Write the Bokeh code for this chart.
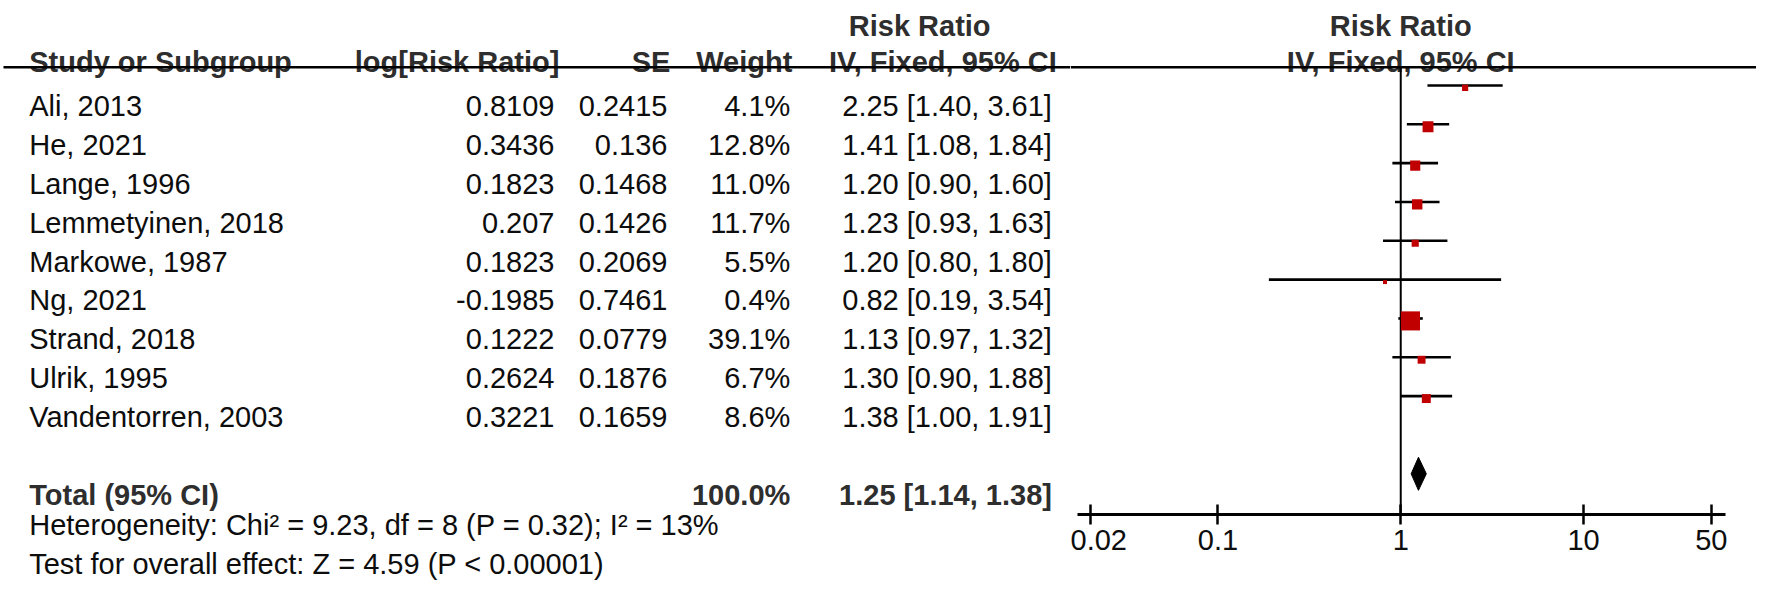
from bokeh.plotting import figure
from bokeh.layouts import row
from bokeh.models import Range1d, FixedTicker
from bokeh.embed import file_html
from bokeh.resources import INLINE
from bokeh.core.properties import value

# ---------------- data ----------------
studies = ["Ali, 2013", "He, 2021", "Lange, 1996", "Lemmetyinen, 2018", "Markowe, 1987",
           "Ng, 2021", "Strand, 2018", "Ulrik, 1995", "Vandentorren, 2003"]
log_rr = [0.8109, 0.3436, 0.1823, 0.207, 0.1823, -0.1985, 0.1222, 0.2624, 0.3221]
se = [0.2415, 0.136, 0.1468, 0.1426, 0.2069, 0.7461, 0.0779, 0.1876, 0.1659]
weight = [4.1, 12.8, 11.0, 11.7, 5.5, 0.4, 39.1, 6.7, 8.6]
rr = [2.25, 1.41, 1.20, 1.23, 1.20, 0.82, 1.13, 1.30, 1.38]
ci_low = [1.40, 1.08, 0.90, 0.93, 0.80, 0.19, 0.97, 0.90, 1.00]
ci_high = [3.61, 1.84, 1.60, 1.63, 1.80, 3.54, 1.32, 1.88, 1.91]
total_weight = 100.0
total_rr = 1.25
total_low = 1.14
total_high = 1.38
heterogeneity = "Heterogeneity: Chi\u00b2 = 9.23, df = 8 (P = 0.32); I\u00b2 = 13%"
overall_effect = "Test for overall effect: Z = 4.59 (P < 0.00001)"
tick_values = [0.02, 0.1, 1, 10, 50]
tick_labels = ["0.02", "0.1", "1", "10", "50"]

# ---------------- layout / style ----------------
FONT = "Liberation Sans"
FS = "29px"
REG = "#0d0d0d"
BOLD = "#2e2e2e"
RED = "#C00000"

W, H = 1756, 583            # size of the whole layout on the page
REF_W, REF_H = 1772, 599    # layout coordinates below are given in this frame
SX, SY = W / REF_W, H / REF_H

SPLIT = 1080          # where the table ends and the forest plot begins
X_ONE = 1413          # x of RR = 1
DECADE = 184.5        # per decade
AXIS_Y = 528

ROW0 = 87.3
PITCH = 39.9
TEXT_OFF = 21.3
SQ_OFF = 2.5

n = len(studies)
line_y = [ROW0 + PITCH * i for i in range(n)]
text_y = [y + TEXT_OFF for y in line_y]
total_line_y = ROW0 + PITCH * (n + 1)
total_text_y = total_line_y + TEXT_OFF


def add_text(p, xs, ys, texts, align, bold=False):
    p.text(x=xs, y=ys, text=texts, text_align=align, text_baseline="alphabetic",
           text_font=value(FONT), text_font_size=value(FS),
           text_font_style="bold" if bold else "normal",
           text_color=BOLD if bold else REG)


def no_align(p):
    try:
        p.frame_align = False
    except Exception:
        pass


# ---------------- left table ----------------
left_w = round(SPLIT * SX)
left_end = left_w / SX
left = figure(width=left_w, height=H, output_backend="svg", toolbar_location=None,
              x_range=Range1d(0, left_end), y_range=Range1d(REF_H, 0),
              x_axis_location=None, y_axis_location=None,
              min_border=0, outline_line_color=None)
left.xgrid.visible = False
left.ygrid.visible = False
no_align(left)

# header
add_text(left, [856], [26.3], ["Risk Ratio"], "left", True)
add_text(left, [29], [63.3], ["Study or Subgroup"], "left", True)
add_text(left, [564], [63.3], ["log[Risk Ratio]"], "right", True)
add_text(left, [676], [63.3], ["SE"], "right", True)
add_text(left, [799], [63.3], ["Weight"], "right", True)
add_text(left, [836], [63.3], ["IV, Fixed, 95% CI"], "left", True)
left.segment(x0=[3], x1=[left_end], y0=[68.5], y1=[68.5], line_width=2.5, line_color="black")

# rows
add_text(left, [29] * n, text_y, studies, "left")
add_text(left, [559] * n, text_y, [str(v) for v in log_rr], "right")
add_text(left, [673] * n, text_y, [str(v) for v in se], "right")
add_text(left, [797] * n, text_y, [f"{w:.1f}%" for w in weight], "right")
add_text(left, [1061] * n, text_y,
         [f"{a:.2f} [{b:.2f}, {c:.2f}]" for a, b, c in zip(rr, ci_low, ci_high)], "right")

# total
add_text(left, [29], [total_text_y], ["Total (95% CI)"], "left", True)
add_text(left, [797], [total_text_y], [f"{total_weight:.1f}%"], "right", True)
add_text(left, [1061], [total_text_y],
         [f"{total_rr:.2f} [{total_low:.2f}, {total_high:.2f}]"], "right", True)
add_text(left, [29], [539.3], [heterogeneity], "left")
add_text(left, [29], [579.3], [overall_effect], "left")

# ---------------- right forest plot ----------------
right_w = W - left_w
frame_h = round(AXIS_Y * SY)
x_start = 10 ** ((left_end - X_ONE) / DECADE)
x_end = 10 ** ((REF_W - X_ONE) / DECADE)
right = figure(width=right_w, height=H, output_backend="svg", toolbar_location=None,
               x_axis_type="log", x_range=Range1d(x_start, x_end),
               y_range=Range1d(frame_h / SY, 0),
               x_axis_location="below", y_axis_location=None,
               min_border_left=0, min_border_right=0, min_border_top=0,
               min_border_bottom=H - frame_h, outline_line_color=None)
right.xgrid.visible = False
right.ygrid.visible = False
no_align(right)

add_text(right, [1.0], [26.3], ["Risk Ratio"], "center", True)
add_text(right, [1.0], [63.3], ["IV, Fixed, 95% CI"], "center", True)
right.segment(x0=[x_start], x1=[x_end], y0=[68.5], y1=[68.5], line_width=2.5, line_color="black")

# line of no effect
right.segment(x0=[1], x1=[1], y0=[68.5], y1=[AXIS_Y], line_width=2, line_color="black")

# CIs and boxes
right.segment(x0=ci_low, x1=ci_high, y0=line_y, y1=line_y, line_width=2.6, line_color="black")
sizes = [max(3.05 * w ** 0.5, 4) for w in weight]
right.scatter(x=rr, y=[y + SQ_OFF for y in line_y], size=sizes, marker="square",
              fill_color=RED, line_color=None)

# total diamond
half = 17
right.patch(x=[total_low, total_rr, total_high, total_rr],
            y=[total_line_y, total_line_y - half, total_line_y, total_line_y + half],
            fill_color="black", line_color="black", line_width=1)

ax = right.xaxis[0]
ax.ticker = FixedTicker(ticks=tick_values)
ax.major_label_overrides = dict(zip(tick_values, tick_labels))
ax.bounds = (10 ** ((1087 - X_ONE) / DECADE), 10 ** ((1741 - X_ONE) / DECADE))
ax.axis_line_width = 3
ax.axis_line_color = "black"
ax.major_tick_line_width = 2.5
ax.major_tick_line_color = "black"
ax.major_tick_in = 10
ax.major_tick_out = 10
ax.minor_tick_line_color = None
ax.major_label_text_font = FONT
ax.major_label_text_font_size = FS
ax.major_label_text_color = REG
ax.major_label_standoff = 5

layout = row(left, right)
open("out.html", "w").write(file_html(layout, INLINE))
